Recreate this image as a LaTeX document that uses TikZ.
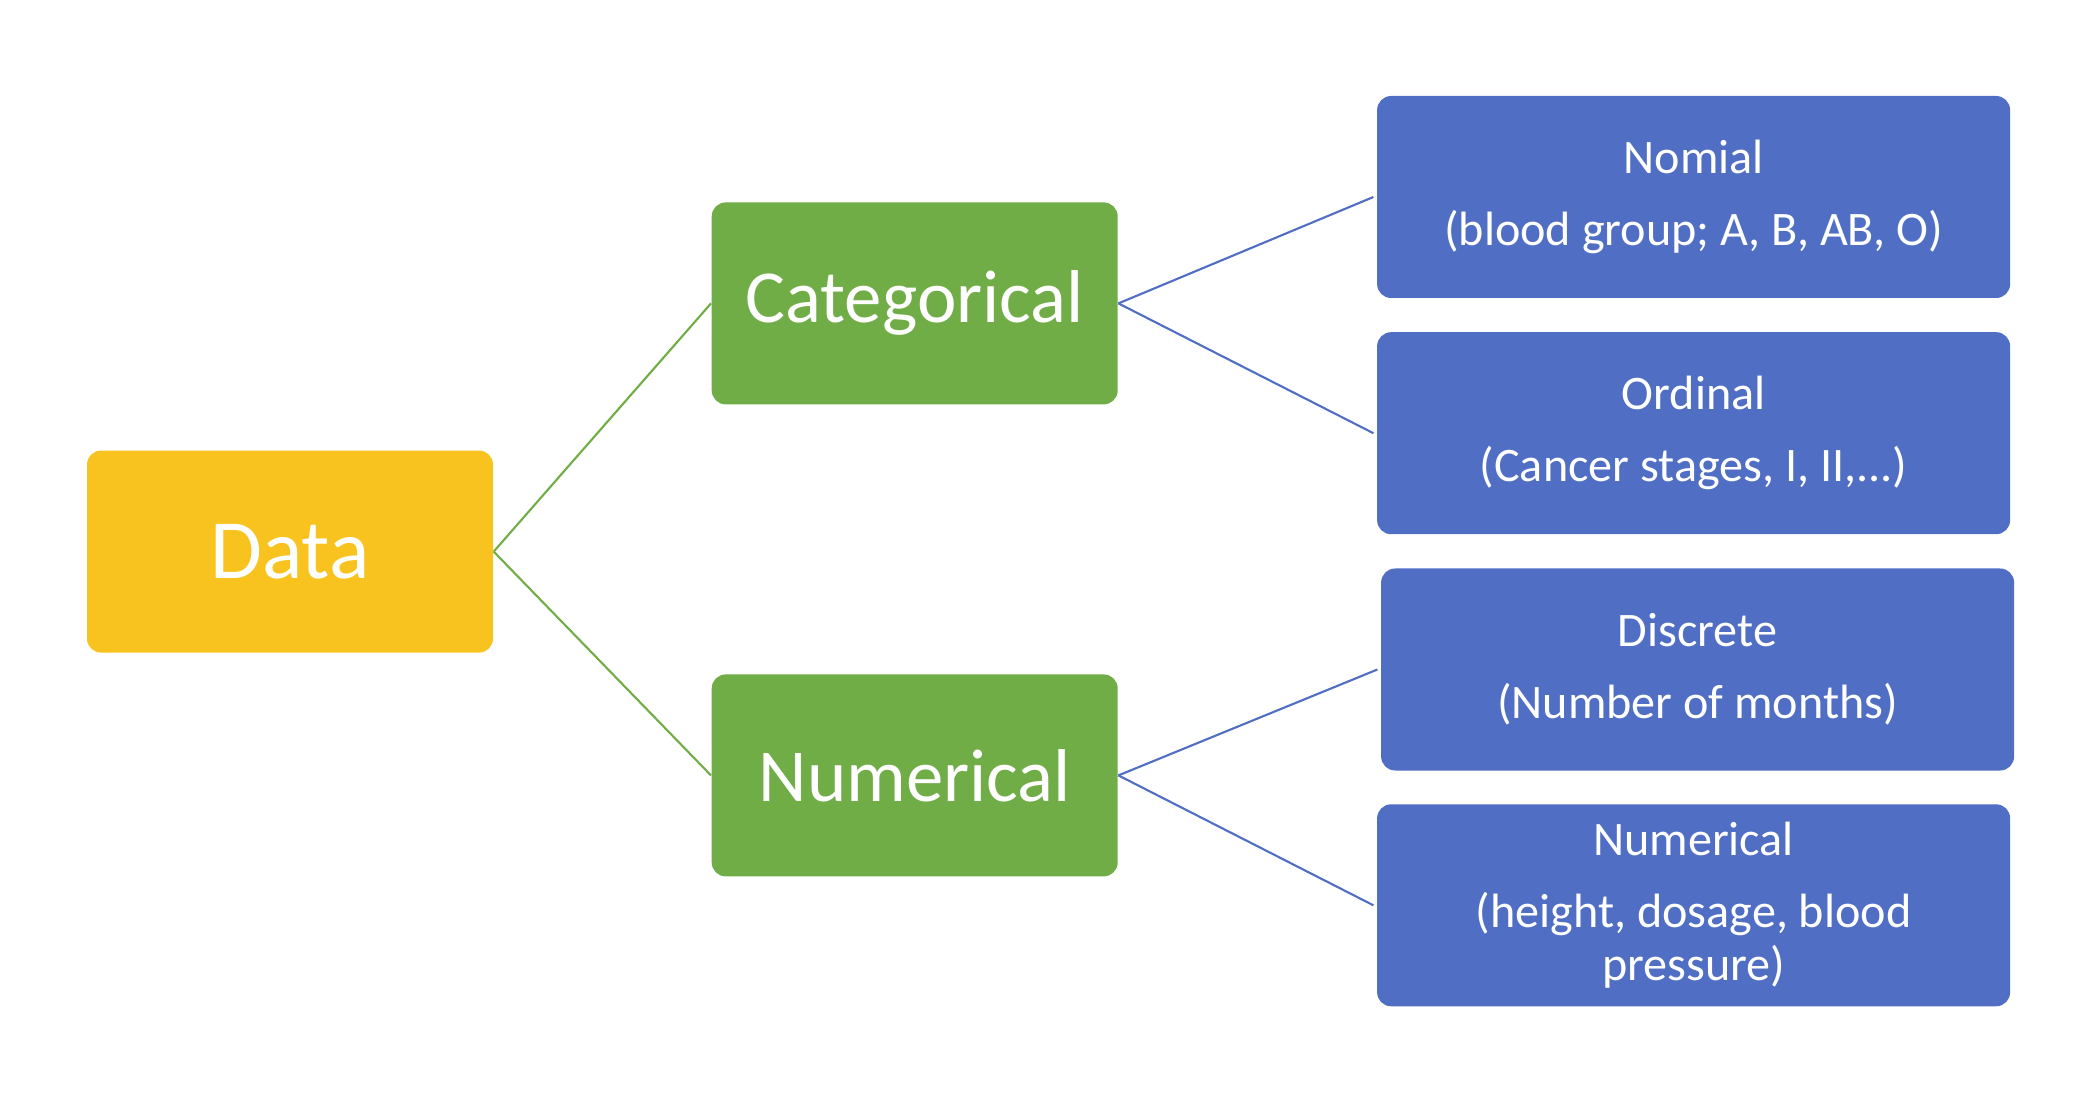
\documentclass[tikz,border=0pt]{standalone}
\usepackage{fontspec}
\setmainfont{Carlito}
\definecolor{amarillo}{RGB}{249,195,31}
\definecolor{verde}{RGB}{112,173,71}
\definecolor{azul}{RGB}{80,110,195}
\begin{document}
\begin{tikzpicture}[
    caja/.style={rounded corners=0.14cm, inner sep=0pt, text=white, align=center},
    grande/.style={caja, minimum width=4.06cm, minimum height=2.02cm,
        font={\fontsize{21.3}{26}\selectfont}},
    hoja/.style={caja, fill=azul, minimum width=6.33cm, minimum height=2.02cm,
        font={\fontsize{13.7}{15.3}\selectfont}},
    enlace/.style={line width=0.6pt}
]
    % Marco de la figura
    \useasboundingbox (0,0) rectangle (20.79,11.11);

    % Raiz
    \node[grande, fill=amarillo, font={\fontsize{24}{29}\selectfont}] (data) at (2.90,5.594) {Data};

    % Segundo nivel
    \node[grande, fill=verde] (cat) at (9.147,8.076) {Categorical};
    \node[grande, fill=verde] (num) at (9.147,3.356) {Numerical};

    % Hojas
    \node[hoja] (nom) at (16.936,9.14) {Nomial\\[0.18cm](blood group; A, B, AB, O)};
    \node[hoja] (ord) at (16.936,6.778) {Ordinal\\[0.18cm](Cancer stages, I, II,...)};
    \node[hoja] (disc) at (16.976,4.415) {Discrete\\[0.18cm](Number of months)};
    \node[hoja] (numr) at (16.936,2.057) {Numerical\\[0.18cm](height, dosage, blood\\pressure)};

    % Conexiones
    \draw[enlace, verde] (data.east) -- (cat.west);
    \draw[enlace, verde] (data.east) -- (num.west);
    \foreach \a/\b in {cat/nom, cat/ord, num/disc, num/numr}
        \draw[enlace, azul] (\a.east) -- ([xshift=-0.03cm]\b.west);
\end{tikzpicture}
\end{document}
